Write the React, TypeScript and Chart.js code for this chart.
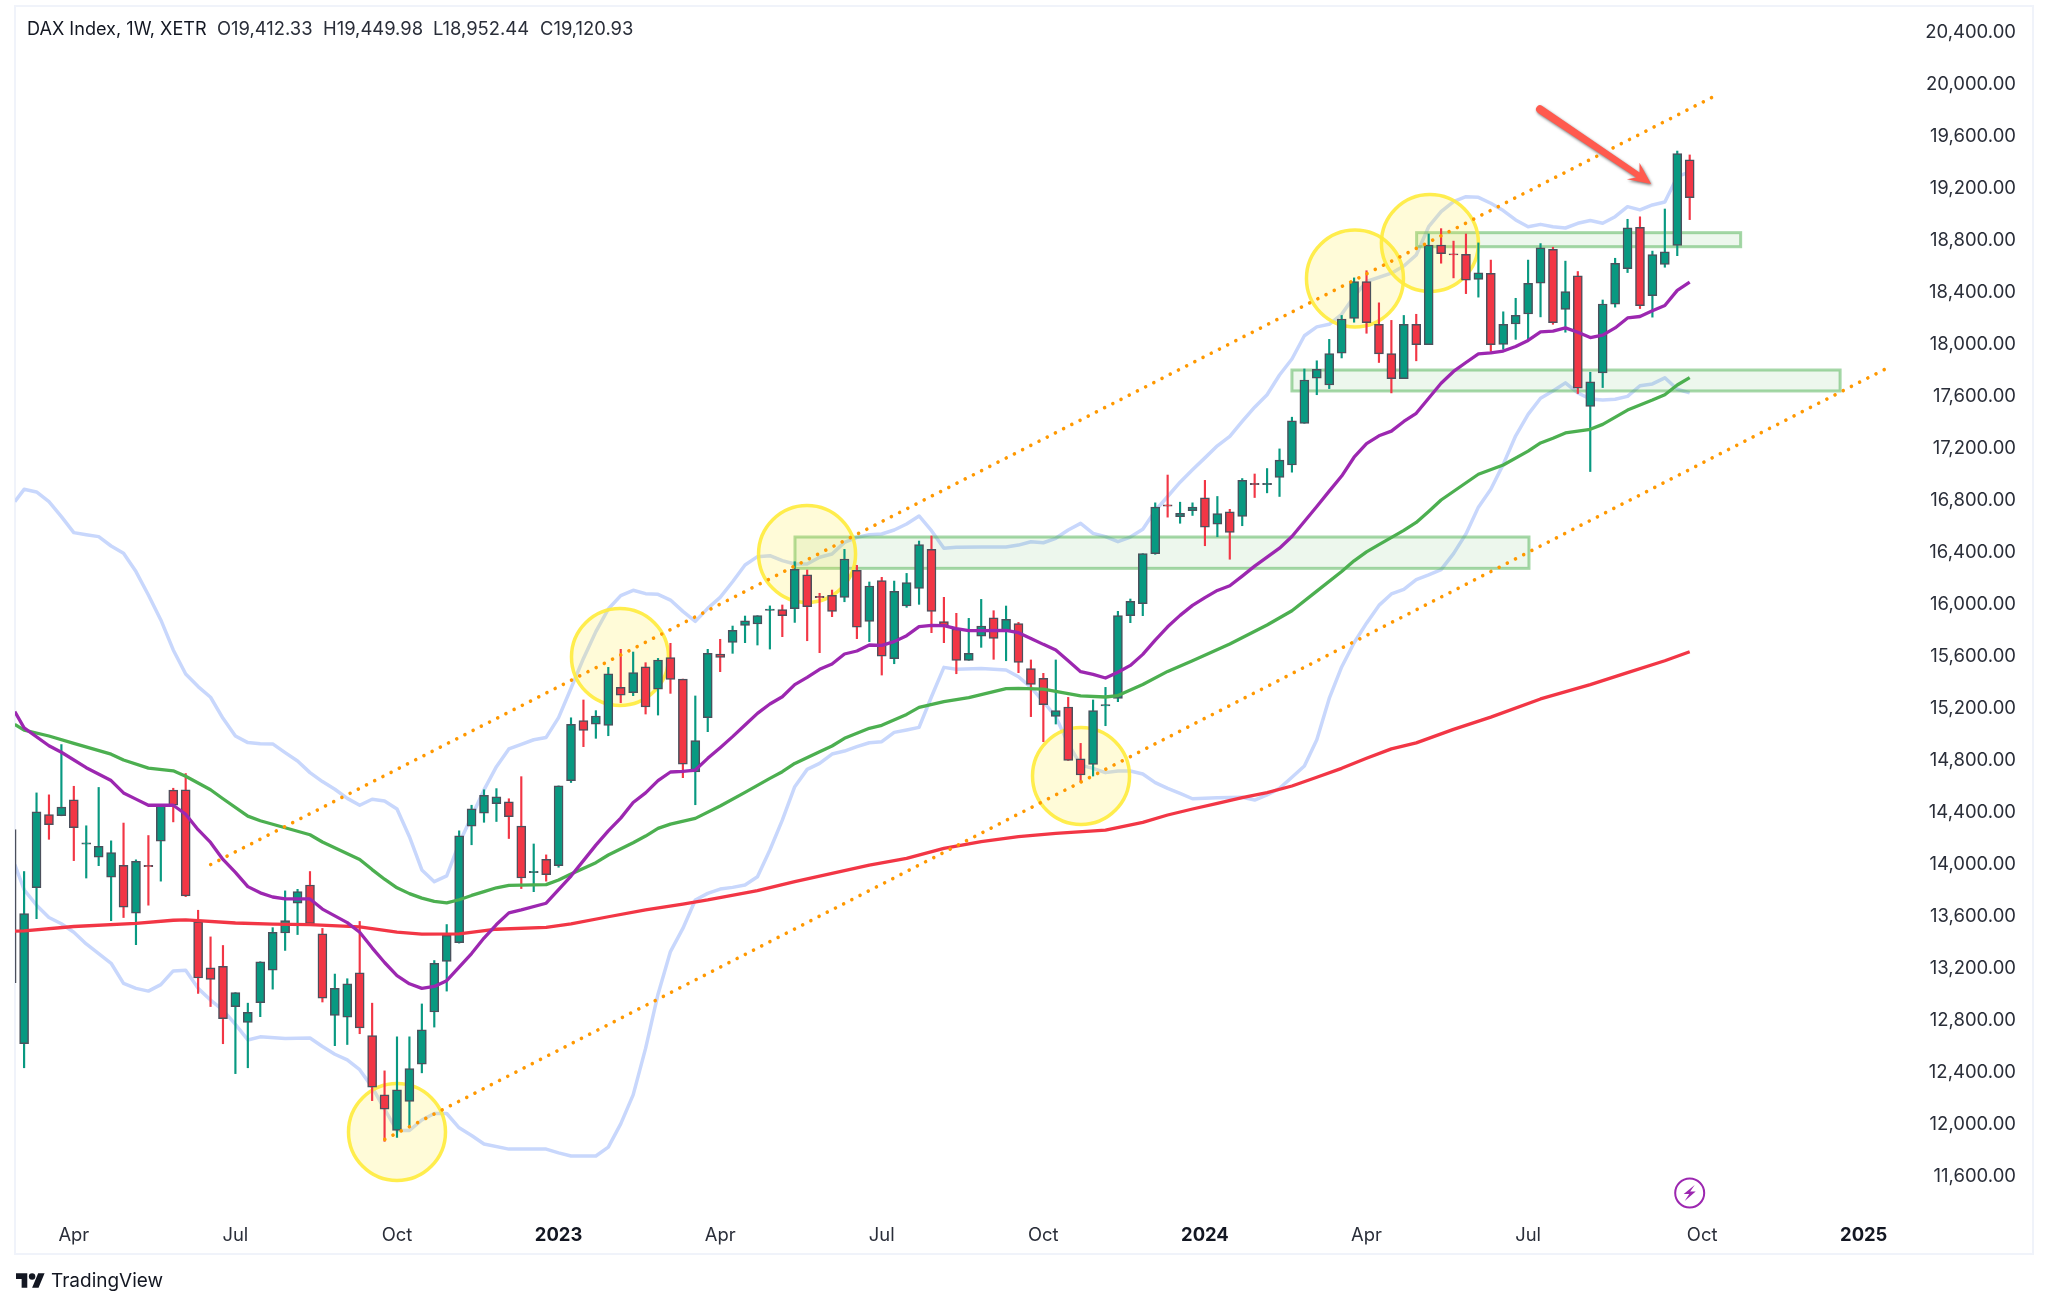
import React, { useEffect, useRef } from "react";
import { Chart, registerables } from "chart.js";

Chart.register(...registerables);

const firstWeek = -1;
const opens = [13081,12611,13811,14374,14365,14487,14146,14047,13892,13984,13615,13983,14169,14562,14565,13549,13195,13206,12897,12774,12926,13177,13463,13692,13832,13457,12828,12816,13156,12673,12217,11943,12167,12453,12855,13245,13388,14285,14386,14458,14472,14285,13928,14029,13981,14636,15097,15069,15061,15353,15312,15512,15340,15582,15417,14702,15120,15610,15699,15830,15841,15946,15951,15959,16220,16053,16061,16046,16254,15861,16174,15574,15980,16115,16415,15859,15802,15561,15748,15889,15789,15843,15497,15422,15130,15202,14804,14761,15210,15269,15905,15997,16382,16758,16666,16712,16811,16608,16704,16668,16923,16913,16968,17064,17385,17732,17680,17924,18193,18476,18147,17921,17729,18147,17990,18757,18690,18685,18493,18540,17993,18149,18226,18463,18724,18262,18520,17515,17773,18301,18575,18894,18367,18608,18754,19412.33];
const highs = [14258,13936,14541,14526,14913,14592,14288,14583,14172,14309,14026,14213,14446,14577,14690,13638,13433,13367,13004,12923,13242,13504,13787,13799,13936,13498,13147,13111,13552,12923,12402,12664,12664,12917,13251,13528,14249,14446,14565,14574,14496,14666,14148,14064,14595,15119,15256,15174,15507,15646,15625,15543,15576,15692,15417,15287,15646,15723,15825,15902,15905,15980,15987,16320,16256,16077,16102,16415,16292,16164,16200,16171,16230,16479,16518,16046,15923,15884,16030,15943,15979,15853,15564,15461,15564,15276,14922,15256,15353,15938,16033,16382,16773,16987,16778,16773,16946,16822,16723,16960,16995,17037,17188,17432,17803,17866,18031,18215,18504,18559,18312,18177,18215,18224,18842,18883,18787,18842,18773,18641,18243,18347,18641,18768,18740,18633,18553,17778,18334,18655,18955,18974,18710,19034,19480,19449.98];
const lows = [13081,12426,13573,14184,14365,14020,13886,13981,13558,13582,13373,13677,13862,14318,13743,12998,12897,12611,12381,12426,12819,13031,13329,13451,13528,12932,12596,12605,12688,12173,11860,11890,11979,12387,12739,13016,13385,14142,14315,14321,14190,13805,13781,13862,13969,14621,14897,14961,14981,15235,15289,15148,15140,15307,14658,14450,15012,15474,15615,15697,15679,15648,15743,15853,15712,15620,15897,16012,15728,15705,15448,15535,15969,15992,15774,15697,15458,15561,15661,15569,15558,15466,15128,14935,15071,14791,14625,14671,15058,15243,15851,15905,16377,16663,16616,16676,16443,16512,16339,16597,16814,16850,16822,17009,17385,17605,17652,17888,18163,18078,17853,17619,17729,17866,17990,18617,18504,18383,18356,17938,17954,18031,18023,18204,18147,18086,17614,17014,17660,18279,18545,18268,18202,18586,18675,18952.44];
const closes = [14258,13612,14395,14297,14431,14273,14156,14130,14082,13662,14014,13973,14446,14446,13749,13117,13105,12804,13004,12852,13242,13469,13558,13781,13534,12962,13037,13072,12733,12277,12107,12256,12420,12718,13230,13445,14210,14419,14523,14511,14359,13886,13938,13912,14595,15068,15022,15133,15458,15294,15466,15202,15564,15415,14763,14943,15615,15584,15792,15866,15905,15956,15905,16261,15974,16043,15938,16341,15817,16133,15594,16092,16159,16451,15938,15825,15561,15615,15825,15730,15876,15546,15376,15220,15174,14791,14679,15174,15220,15905,16015,16382,16740,16748,16693,16740,16586,16690,16545,16946,16913,16923,17102,17405,17718,17800,17921,18188,18476,18160,17919,17729,18147,17990,18757,18691,18680,18487,18542,17990,18147,18215,18463,18735,18160,18399,17655,17704,18303,18617,18889,18290,18683,18705,19460,19120.93];

const purpleMA: [number, number][] = [[-0.75,15167],[0,15041],[2,14904],[3,14854],[5,14735],[7,14636],[8,14541],[9,14493],[10,14446],[12,14446],[13,14377],[14,14258],[15,14160],[16,14029],[17,13930],[18,13820],[19,13772],[20,13740],[21,13725],[23,13725],[24,13647],[26,13543],[27,13469],[28,13349],[29,13236],[30,13135],[31,13072],[32,13037],[33,13052],[34,13096],[35,13200],[36,13305],[37,13424],[38,13528],[39,13618],[40,13641],[42,13692],[43,13796],[44,13901],[45,14020],[46,14139],[47,14249],[48,14347],[49,14467],[50,14541],[51,14635],[52,14702],[53,14706],[54,14717],[55,14807],[56,14889],[57,14974],[58,15063],[59,15153],[60,15225],[61,15281],[62,15374],[63,15430],[64,15492],[65,15533],[66,15610],[67,15633],[68,15679],[69,15676],[70,15705],[71,15751],[72,15820],[73,15830],[74,15828],[75,15805],[76,15789],[77,15789],[79,15792],[80,15774],[81,15730],[82,15684],[83,15641],[84,15558],[85,15474],[86,15453],[87,15425],[88,15469],[89,15522],[90,15607],[91,15717],[92,15819],[93,15907],[94,15984],[95,16044],[96,16099],[97,16135],[98,16209],[99,16286],[100,16355],[101,16424],[102,16514],[103,16630],[104,16745],[105,16863],[106,16979],[107,17124],[108,17229],[109,17289],[110,17325],[111,17399],[112,17462],[113,17578],[114,17693],[115,17784],[116,17853],[117,17919],[118,17927],[119,17941],[120,17976],[121,18023],[122,18089],[123,18094],[124,18119],[125,18086],[126,18045],[127,18064],[128,18119],[129,18196],[130,18207],[131,18251],[132,18292],[133,18408],[134,18471]];
const greenMA: [number, number][] = [[-0.75,15068],[0,15024],[2,14979],[4,14922],[7,14839],[8,14794],[10,14732],[12,14711],[13,14669],[15,14565],[16,14496],[18,14362],[19,14327],[21,14273],[23,14219],[24,14163],[27,14029],[28,13951],[29,13877],[30,13811],[31,13766],[32,13731],[33,13707],[34,13695],[35,13719],[36,13752],[37,13781],[38,13811],[39,13830],[42,13835],[43,13871],[44,13917],[46,14004],[47,14063],[49,14158],[50,14209],[51,14268],[52,14301],[54,14345],[56,14440],[58,14545],[60,14653],[61,14704],[62,14768],[64,14858],[65,14902],[66,14961],[68,15038],[69,15061],[71,15145],[72,15199],[74,15243],[76,15274],[79,15343],[80,15346],[82,15340],[85,15287],[87,15279],[88,15290],[90,15375],[92,15476],[94,15558],[97,15687],[100,15833],[102,15943],[104,16094],[106,16245],[107,16327],[108,16396],[109,16451],[111,16561],[112,16622],[113,16707],[114,16795],[117,16993],[119,17064],[121,17171],[122,17234],[123,17270],[124,17311],[126,17339],[127,17377],[129,17487],[131,17564],[132,17605],[133,17680],[134,17737]];
const redMA: [number, number][] = [[-0.75,13477],[0,13480],[4,13513],[9,13537],[12,13561],[13,13564],[17,13540],[20,13531],[23,13528],[27,13510],[30,13469],[32,13454],[35,13457],[38,13492],[42,13507],[44,13534],[47,13588],[50,13641],[53,13686],[55,13717],[59,13789],[62,13858],[65,13922],[68,13986],[71,14037],[74,14114],[77,14166],[80,14204],[83,14230],[87,14255],[90,14314],[92,14371],[94,14417],[96,14461],[98,14504],[100,14543],[102,14594],[104,14661],[106,14730],[108,14807],[110,14880],[112,14926],[115,15030],[118,15124],[122,15264],[126,15374],[129,15467],[132,15558],[134,15627]];
const upperBand: [number, number][] = [[-0.75,16782],[0,16877],[1,16857],[2,16782],[3,16667],[4,16544],[5,16528],[6,16513],[7,16441],[8,16385],[9,16244],[10,16064],[11,15872],[12,15641],[13,15456],[14,15359],[15,15277],[16,15115],[17,14979],[18,14928],[19,14920],[20,14918],[21,14851],[22,14787],[23,14697],[24,14628],[25,14569],[26,14499],[27,14446],[28,14492],[29,14479],[30,14417],[31,14204],[32,13948],[33,13858],[34,13902],[35,14153],[36,14358],[37,14564],[38,14743],[39,14879],[40,14915],[41,14950],[42,14968],[43,15120],[44,15346],[45,15576],[46,15782],[47,15956],[48,16059],[49,16100],[50,16074],[51,16069],[52,16025],[53,15938],[54,15861],[55,15961],[56,16046],[57,16166],[58,16295],[59,16359],[60,16366],[61,16328],[62,16302],[63,16302],[64,16354],[65,16379],[66,16469],[67,16507],[68,16528],[69,16533],[70,16564],[71,16610],[72,16672],[73,16559],[74,16423],[75,16431],[77,16433],[79,16433],[80,16448],[81,16474],[82,16466],[83,16500],[84,16564],[85,16615],[86,16538],[87,16513],[88,16474],[89,16510],[90,16570],[91,16712],[92,16822],[93,16932],[94,17028],[95,17119],[96,17212],[97,17284],[98,17399],[99,17509],[100,17605],[101,17757],[102,17880],[103,18059],[104,18127],[105,18147],[106,18224],[107,18361],[108,18476],[110,18540],[111,18595],[112,18680],[113,18898],[114,19014],[115,19091],[116,19129],[117,19124],[118,19078],[119,19022],[120,18950],[121,18898],[122,18916],[123,18898],[124,18888],[125,18924],[126,18945],[127,18924],[128,18975],[129,19052],[130,19027],[131,19065],[132,19088],[133,19283],[134,19320]];
const lowerBand: [number, number][] = [[-0.75,13990],[0,13796],[1,13677],[2,13582],[3,13534],[4,13469],[5,13379],[6,13305],[7,13230],[8,13075],[9,13037],[10,13016],[11,13066],[12,13171],[13,13177],[14,13037],[15,12947],[16,12870],[17,12760],[18,12640],[19,12664],[21,12652],[23,12655],[24,12590],[25,12530],[26,12486],[27,12411],[28,12277],[29,12107],[30,11943],[31,11943],[32,12024],[33,12074],[34,12074],[35,11964],[36,11905],[37,11839],[39,11800],[42,11800],[43,11771],[44,11747],[46,11747],[47,11815],[48,11994],[49,12217],[50,12575],[51,12992],[52,13320],[53,13498],[54,13717],[55,13768],[56,13801],[57,13814],[58,13832],[59,13896],[60,14102],[61,14332],[62,14589],[63,14722],[64,14768],[65,14840],[66,14863],[67,14897],[68,14927],[69,14935],[70,15007],[71,15025],[72,15045],[73,15281],[74,15507],[75,15492],[77,15499],[79,15487],[80,15435],[81,15353],[82,15243],[83,15127],[84,14922],[85,14755],[86,14730],[87,14697],[88,14709],[89,14709],[90,14686],[91,14620],[92,14576],[93,14537],[94,14496],[96,14504],[98,14507],[99,14486],[100,14525],[101,14576],[102,14661],[103,14748],[104,14950],[105,15268],[106,15510],[107,15696],[108,15847],[109,15984],[110,16072],[111,16108],[112,16182],[113,16218],[114,16259],[115,16382],[116,16534],[117,16740],[118,16877],[119,17069],[120,17289],[121,17454],[122,17578],[123,17633],[124,17696],[125,17619],[126,17572],[127,17564],[128,17570],[129,17592],[130,17674],[131,17688],[132,17735],[133,17647],[134,17619]];

const upperChannel: [number, number][] = [[15.01,13990],[135.85,19896]];
const lowerChannel: [number, number][] = [[29.02,11875],[149.74,17803]];

const touchCircles: [number, number][] = [[30,11932],[47.94,15587],[62.99,16379],[85.03,14671],[107.07,18499],[113.1,18772]];
// [first week, last week, upper price, lower price]
const zones: [number, number, number, number][] = [[62.02,121.07,16510,16269],[102,146.1,17795,17634],[112.03,138.1,18852,18744]];
const arrowFrom: [number, number] = [121.96,19801];
const arrowTo: [number, number] = [130.9,19227];
const flashMark: [number, number] = [134,11462];

const priceTicks = [11600,12000,12400,12800,13200,13600,14000,14400,14800,15200,15600,16000,16400,16800,17200,17600,18000,18400,18800,19200,19600,20000,20400];
const timeTickWeeks = [4,17,30,43,56,69,82,95,108,121,135,148];
const timeTickLabels = ["Apr","Jul","Oct","2023","Apr","Jul","Oct","2024","Apr","Jul","Oct","2025"];
const titleParts: [string, number][] = [["DAX Index, 1W, XETR",27],["O19,412.33",217],["H19,449.98",323],["L18,952.44",433],["C19,120.93",540]];

const FONT = "Inter, 'Noto Sans', sans-serif";
const UP = "#089981";
const DOWN = "#f23645";
const BODY_EDGE = "#4c505c";
const DRAWINGS_BELOW_DATASET = 3; // drawings go on just before the first candle dataset is painted

const pts = (list: [number, number][]) => list.map(([x, y]) => ({ x, y }));

function buildCandles() {
  const upWicks: any[] = [], downWicks: any[] = [], upBodies: any[] = [], downBodies: any[] = [];
  opens.forEach((o, k) => {
    const x = firstWeek + k;
    const c = closes[k];
    const up = c >= o;
    (up ? upWicks : downWicks).push({ x, y: [lows[k], highs[k]] });
    (up ? upBodies : downBodies).push({ x, y: [o, c] });
  });
  return { upWicks, downWicks, upBodies, downBodies };
}

const overlayPlugin = {
  id: "overlay",
  beforeDraw(chart: any) {
    const { ctx } = chart;
    ctx.save();
    ctx.fillStyle = "#ffffff";
    ctx.fillRect(0, 0, chart.width, chart.height);
    ctx.strokeStyle = "#f0f3fa";
    ctx.lineWidth = 2;
    ctx.strokeRect(15, 6, 2018, 1248);
    ctx.restore();
  },
  beforeDatasetDraw(chart: any, args: any) {
    if (args.index !== DRAWINGS_BELOW_DATASET) return;
    const { ctx, scales } = chart;
    const X = (v: number) => scales.x.getPixelForValue(v);
    const Y = (v: number) => scales.y.getPixelForValue(v);
    ctx.save();
    zones.forEach(([a, b, t, u]) => {
      const x = X(a), y = Y(t), w = X(b) - x, h = Y(u) - y;
      ctx.fillStyle = "rgba(76,175,80,0.1)";
      ctx.fillRect(x, y, w, h);
      ctx.strokeStyle = "rgba(76,175,80,0.5)";
      ctx.lineWidth = 3;
      ctx.strokeRect(x, y, w, h);
    });
    touchCircles.forEach(([a, v]) => {
      ctx.beginPath();
      ctx.arc(X(a), Y(v), 48.5, 0, Math.PI * 2);
      ctx.fillStyle = "rgba(255,235,59,0.2)";
      ctx.fill();
      ctx.strokeStyle = "#ffeb3b";
      ctx.globalAlpha = 0.9;
      ctx.lineWidth = 3.5;
      ctx.stroke();
      ctx.globalAlpha = 1;
    });
    ctx.restore();
  },
  afterDatasetsDraw(chart: any) {
    const { ctx, scales } = chart;
    const X = (v: number) => scales.x.getPixelForValue(v);
    const Y = (v: number) => scales.y.getPixelForValue(v);
    ctx.save();
    const x0 = X(arrowFrom[0]), y0 = Y(arrowFrom[1]), x1 = X(arrowTo[0]), y1 = Y(arrowTo[1]);
    const len = Math.hypot(x1 - x0, y1 - y0);
    const ux = (x1 - x0) / len, uy = (y1 - y0) / len, nx = -uy, ny = ux;
    const neckX = x1 - ux * 16, neckY = y1 - uy * 16;
    ctx.save();
    ctx.shadowColor = "rgba(0,0,0,0.55)";
    ctx.shadowBlur = 3;
    ctx.shadowOffsetX = 1;
    ctx.shadowOffsetY = 1.5;
    ctx.fillStyle = "#ff5a4e";
    ctx.beginPath();
    ctx.arc(x0, y0, 4, Math.atan2(ny, nx), Math.atan2(-ny, -nx));
    ctx.lineTo(neckX - nx * 3, neckY - ny * 3);
    ctx.lineTo(x1 - 11.7, y1 - 21.3);
    ctx.lineTo(x1, y1);
    ctx.lineTo(x1 - 24.3, y1 - 4.7);
    ctx.lineTo(neckX + nx * 3, neckY + ny * 3);
    ctx.closePath();
    ctx.fill();
    ctx.restore();
    const fx = X(flashMark[0]), fy = Y(flashMark[1]);
    ctx.beginPath();
    ctx.arc(fx, fy, 14.5, 0, Math.PI * 2);
    ctx.strokeStyle = "#9c27b0";
    ctx.lineWidth = 2;
    ctx.stroke();
    ctx.fillStyle = "#9c27b0";
    ctx.beginPath();
    ctx.moveTo(fx + 5, fy - 8);
    ctx.lineTo(fx - 6, fy + 1);
    ctx.lineTo(fx - 0.5, fy + 1);
    ctx.lineTo(fx - 5, fy + 8);
    ctx.lineTo(fx + 6, fy - 1.5);
    ctx.lineTo(fx + 0.5, fy - 1.5);
    ctx.closePath();
    ctx.fill();
    ctx.restore();
  },
};

export default function App() {
  const ref = useRef<HTMLCanvasElement | null>(null);
  useEffect(() => {
    if (!ref.current) return;
    const { upWicks, downWicks, upBodies, downBodies } = buildCandles();
    const bar = (data: any[], color: string, body: boolean, order: number) => ({
      type: "bar",
      data,
      order,
      grouped: false,
      barThickness: body ? 9 : 1.5,
      backgroundColor: color,
      borderColor: BODY_EDGE,
      borderWidth: body ? 1.5 : 0,
      borderSkipped: false,
    });
    const line = (data: [number, number][], color: string, width: number, order: number, dash?: number[]) => ({
      type: "line",
      data: pts(data),
      order,
      borderColor: color,
      borderWidth: width,
      pointRadius: 0,
      tension: 0,
      fill: false,
      borderJoinStyle: "round",
      borderCapStyle: dash ? "round" : "butt",
      borderDash: dash || [],
    });
    const chart = new Chart(ref.current, {
      type: "bar",
      data: {
        datasets: [
          line(upperBand, "#c8d7fc", 3.5, 9),
          line(lowerBand, "#c8d7fc", 3.5, 9),
          bar(upWicks, UP, false, 8),
          bar(downWicks, DOWN, false, 8),
          bar(upBodies, UP, true, 7),
          bar(downBodies, DOWN, true, 7),
          line(redMA, "#f23645", 3.3, 5),
          line(greenMA, "#4caf50", 3.3, 4),
          line(purpleMA, "#9c27b0", 3.3, 3),
          line(upperChannel, "#ff9800", 3.6, 1, [0.01, 9.2]),
          line(lowerChannel, "#ff9800", 3.6, 1, [0.01, 9.2]),
        ] as any,
      },
      plugins: [overlayPlugin as any],
      options: {
        responsive: false,
        animation: false,
        devicePixelRatio: 1,
        layout: { padding: { left: 15, top: 7, right: 32, bottom: 53 } },
        plugins: { legend: { display: false }, tooltip: { enabled: false }, title: { display: false } },
        scales: {
          x: {
            type: "linear",
            offset: false,
            min: -0.732,
            max: 152.85,
            grid: { display: false, drawTicks: false, offset: false },
            border: { display: false },
            afterBuildTicks: (s: any) => { s.ticks = timeTickWeeks.map((value) => ({ value })); },
            afterFit: (s: any) => { s.height = 39; s.paddingLeft = 0; s.paddingRight = 0; },
            ticks: {
              autoSkip: false,
              maxRotation: 0,
              padding: 9.3,
              color: (c: any) => (/^\d/.test(timeTickLabels[timeTickWeeks.indexOf(c.tick?.value)] || "") ? "#131722" : "#2a2e39"),
              font: (c: any) => ({ family: FONT, size: 18.4, weight: /^\d/.test(timeTickLabels[timeTickWeeks.indexOf(c.tick?.value)] || "") ? "700" : "400" }),
              callback: (v: any) => timeTickLabels[timeTickWeeks.indexOf(v)] ?? "",
            },
          },
          y: {
            type: "linear",
            position: "right",
            min: 11293,
            max: 20588.5,
            grid: { display: false, drawTicks: false },
            border: { display: false },
            afterBuildTicks: (s: any) => { s.ticks = priceTicks.map((value) => ({ value })); },
            afterFit: (s: any) => { s.width = 92; s.paddingTop = 0; s.paddingBottom = 0; },
            ticks: {
              autoSkip: false,
              padding: 0,
              crossAlign: "far",
              labelOffset: 1.3,
              color: "#2a2e39",
              font: { family: FONT, size: 18.5 },
              callback: (v: any) => Number(v).toLocaleString("en-US", { minimumFractionDigits: 2, maximumFractionDigits: 2 }),
            },
          },
        },
      } as any,
    });
    return () => chart.destroy();
  }, []);

  return (
    <div style={{ position: "absolute", left: 0, top: 0, width: 2048, height: 1307, overflow: "hidden", background: "#fff" }}>
      <canvas ref={ref} width={2048} height={1307} style={{ display: "block", width: 2048, height: 1307 }} />
      {titleParts.map(([text, left], i) => (
        <span key={i} style={{ position: "absolute", left, top: 17, font: `${i === 0 ? 18.1 : 18.4}px ${FONT}`, lineHeight: "22px", color: i === 0 ? "#131722" : "#2a2e39", whiteSpace: "nowrap" }}>{text}</span>
      ))}
      <svg style={{ position: "absolute", left: 15.5, top: 1273 }} width={29} height={15} viewBox="0 4 36 18">
        <path d="M14 22H7V11H0V4h14v18zM28 22h-8l7.5-18h8L28 22z" fill="#131722" />
        <circle cx="20" cy="8" r="4" fill="#131722" />
      </svg>
      <span style={{ position: "absolute", left: 51, top: 1269, font: `19px ${FONT}`, lineHeight: "24px", color: "#131722", whiteSpace: "nowrap" }}>TradingView</span>
    </div>
  );
}
